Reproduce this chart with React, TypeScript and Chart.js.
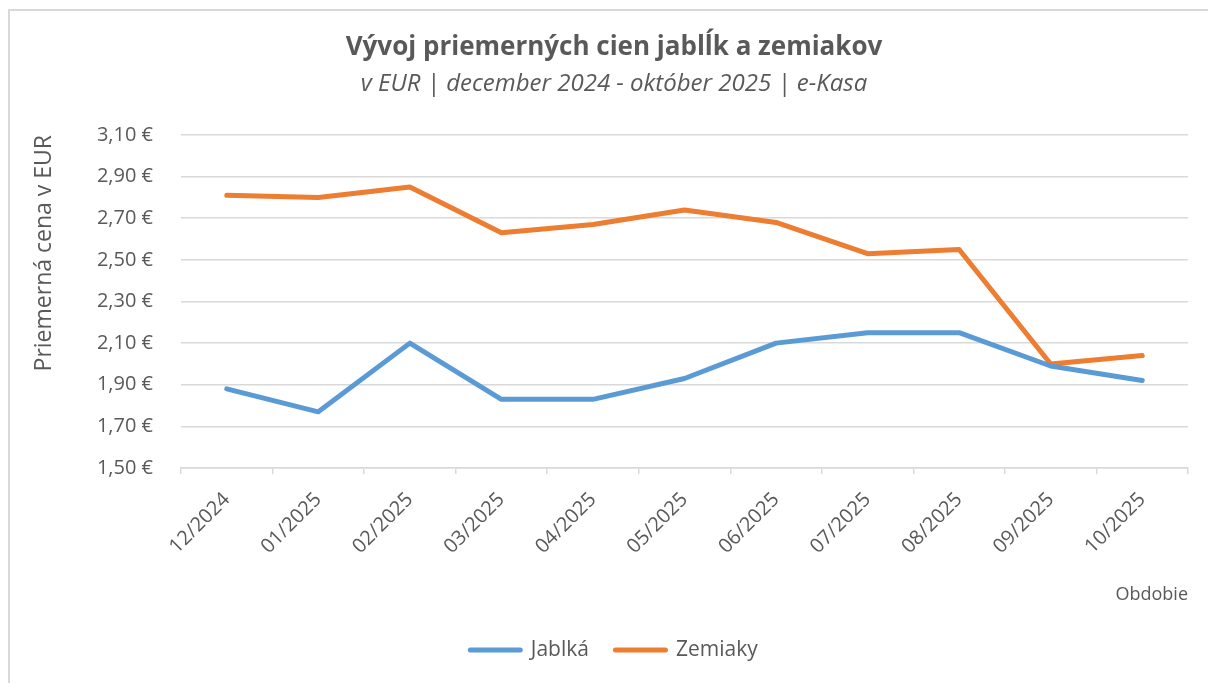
import React, { useEffect, useRef } from "react";
import { Chart, registerables } from "chart.js";

Chart.register(...registerables);

const categories = [
  "12/2024", "01/2025", "02/2025", "03/2025", "04/2025", "05/2025",
  "06/2025", "07/2025", "08/2025", "09/2025", "10/2025",
];
const jablka = [1.88, 1.77, 2.10, 1.83, 1.83, 1.93, 2.10, 2.15, 2.15, 1.99, 1.92];
const zemiaky = [2.81, 2.80, 2.85, 2.63, 2.67, 2.74, 2.68, 2.53, 2.55, 2.00, 2.04];
const yMin = 1.5;
const yMax = 3.1;
const yStep = 0.2;

const TEXT = "#595959";
const GRID = "#d9d9d9";
const FONT = "'Open Sans'";

const PAD_LEFT = 40;
const PAD_RIGHT = 20;

export default function App() {
  const ref = useRef<HTMLCanvasElement | null>(null);

  useEffect(() => {
    if (!ref.current) return;
    const chart = new Chart(ref.current, {
      type: "line",
      data: {
        labels: categories,
        datasets: [
          {
            label: "Jablká",
            data: jablka,
            borderColor: "#5b9bd5",
            backgroundColor: "#5b9bd5",
            borderWidth: 5,
            pointRadius: 0,
            borderCapStyle: "round",
            borderJoinStyle: "round",
            tension: 0,
          },
          {
            label: "Zemiaky",
            data: zemiaky,
            borderColor: "#ed7d31",
            backgroundColor: "#ed7d31",
            borderWidth: 5,
            pointRadius: 0,
            borderCapStyle: "round",
            borderJoinStyle: "round",
            tension: 0,
          },
        ],
      },
      options: {
        responsive: false,
        animation: false,
        layout: { padding: { top: 0, left: PAD_LEFT, right: PAD_RIGHT, bottom: 12.6 } },
        plugins: {
          title: {
            display: true,
            text: "Vývoj priemerných cien jablĺk a zemiakov",
            color: TEXT,
            font: { family: FONT, size: 26, weight: "bold", lineHeight: 1.2 },
            padding: { top: 31.6, bottom: 0 },
          },
          subtitle: {
            display: true,
            text: "v EUR | december 2024 - október 2025 | e-Kasa",
            color: TEXT,
            font: { family: FONT, size: 24, style: "italic", lineHeight: 1.2 },
            padding: { top: 6.8, bottom: 36.6 },
          },
          legend: {
            position: "bottom",
            labels: {
              color: TEXT,
              font: { family: FONT, size: 21 },
              usePointStyle: true,
              pointStyle: "line",
              pointStyleWidth: 50,
              boxHeight: 5,
              padding: 26.5,
              generateLabels: (c: any) =>
                c.data.datasets.map((d: any, i: number) => ({
                  text: d.label,
                  fillStyle: d.borderColor,
                  strokeStyle: d.borderColor,
                  lineWidth: 5,
                  lineCap: "round",
                  pointStyle: "line",
                  datasetIndex: i,
                  hidden: false,
                  fontColor: TEXT,
                })),
            },
          },
          tooltip: { enabled: false },
        },
        scales: {
          x: {
            offset: true,
            grid: {
              offset: true,
              drawOnChartArea: false,
              drawTicks: true,
              tickLength: 6,
              color: GRID,
              lineWidth: 1.5,
            },
            border: { display: true, color: GRID, width: 1.5 },
            ticks: {
              color: TEXT,
              font: { family: FONT, size: 20 },
              minRotation: 45,
              maxRotation: 45,
              autoSkip: false,
              padding: 14,
            },
            title: {
              display: true,
              text: "Obdobie",
              align: "end",
              color: TEXT,
              font: { family: FONT, size: 18, lineHeight: 1.2 },
              padding: { top: 0, bottom: 7.6 },
            },
            afterFit: (s: any) => {
              s.height = 144.9;
            },
          },
          y: {
            min: yMin,
            max: yMax,
            grid: { color: GRID, lineWidth: 1.5, drawTicks: false },
            border: { display: false },
            ticks: {
              stepSize: yStep,
              color: TEXT,
              font: { family: FONT, size: 20 },
              padding: 28,
              callback: (v: any) => Number(v).toFixed(2).replace(".", ",") + " €",
            },
            title: {
              display: true,
              text: "Priemerná cena v EUR",
              align: "end",
              color: TEXT,
              font: { family: FONT, size: 23, lineHeight: 1.2 },
              padding: { top: 44 - PAD_LEFT - 13.8, bottom: 0 },
            },
            afterFit: (s: any) => {
              s.width = 181 - PAD_LEFT;
            },
          },
        },
      },
    });
    return () => chart.destroy();
  }, []);

  return (
    <div style={{ position: "fixed", left: 0, top: 0, width: 1208, height: 683, background: "#fff" }}>
      <div
        style={{
          position: "absolute",
          left: 8,
          top: 9,
          width: 1200,
          height: 674,
          borderTop: `2px solid ${GRID}`,
          borderLeft: `2px solid ${GRID}`,
          boxSizing: "border-box",
        }}
      />
      <canvas ref={ref} width={1208} height={683} style={{ position: "absolute", left: 0, top: 0 }} />
    </div>
  );
}
